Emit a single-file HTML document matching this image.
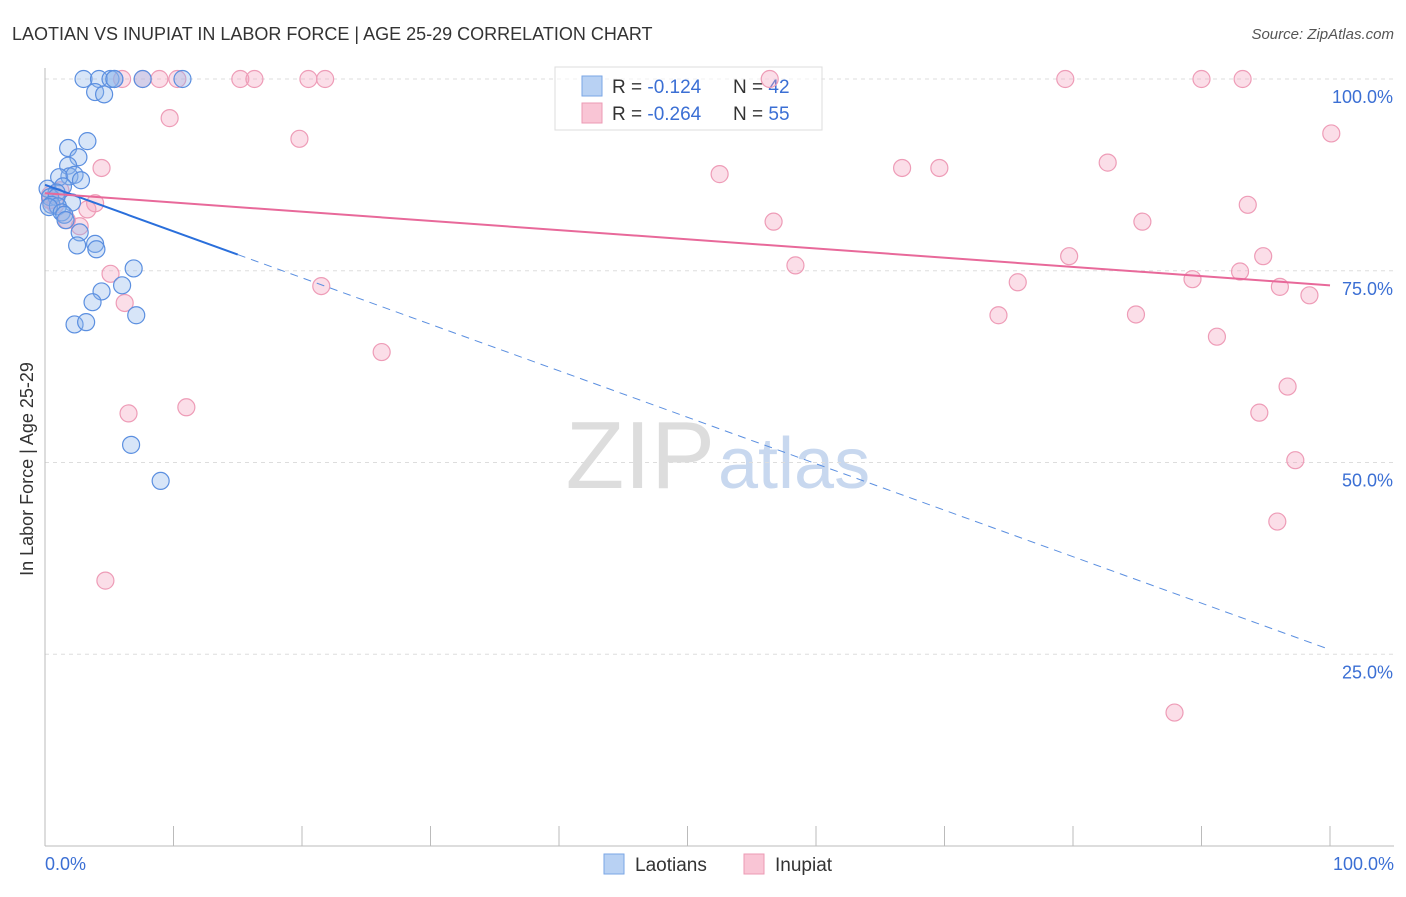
<!DOCTYPE html>
<html><head><meta charset="utf-8"><style>
body{margin:0;background:#fff;font-family:"Liberation Sans",sans-serif;}
svg text{font-family:"Liberation Sans",sans-serif;}
</style></head><body>
<svg width="1406" height="892">
<text x="12" y="40" font-size="18" fill="#333">LAOTIAN VS INUPIAT IN LABOR FORCE | AGE 25-29 CORRELATION CHART</text>
<text x="1394" y="39" font-size="15" fill="#555" font-style="italic" text-anchor="end">Source: ZipAtlas.com</text>
<text x="715" y="488" font-size="96" fill="#ddd" text-anchor="end" font-family="Liberation Serif">ZIP</text>
<text x="718" y="488" font-size="72" fill="#c8d8ef">atlas</text>
<g id="grid"></g>
<line x1="45" y1="68" x2="45" y2="846" stroke="#bbb"/>
<line x1="45" y1="846" x2="1394" y2="846" stroke="#bbb"/>
<g id="ticks"></g>
<text x="20" y="456" font-size="18" fill="#333" transform="rotate(-90 33 456)" text-anchor="middle">In Labor Force | Age 25-29</text>
<text x="45" y="870" font-size="18" fill="#3b6fd4">0.0%</text>
<text x="1394" y="870" font-size="18" fill="#3b6fd4" text-anchor="end">100.0%</text>
<g>
<rect x="555" y="67" width="267" height="63" fill="rgba(255,255,255,0.6)" stroke="#ddd"/>
<rect x="582" y="76" width="20" height="20" fill="#b8d1f3" stroke="#7aa6e6"/>
<rect x="582" y="103" width="20" height="20" fill="#f9c5d5" stroke="#ec9ab4"/>
<text x="612" y="93" font-size="19" fill="#333">R = <tspan fill="#3b6fd4">-0.124</tspan><tspan x="733">N = </tspan><tspan fill="#3b6fd4">42</tspan></text>
<text x="612" y="120" font-size="19" fill="#333">R = <tspan fill="#3b6fd4">-0.264</tspan><tspan x="733">N = </tspan><tspan fill="#3b6fd4">55</tspan></text>
</g>
<g id="pts"></g>
<g id="lines"></g>
<g>
<rect x="604" y="854" width="20" height="20" fill="#b8d1f3" stroke="#7aa6e6"/>
<text x="635" y="871" font-size="19" fill="#333">Laotians</text>
<rect x="744" y="854" width="20" height="20" fill="#f9c5d5" stroke="#ec9ab4"/>
<text x="775" y="871" font-size="19" fill="#333">Inupiat</text>
</g>
</svg>
<script>
const yTicks=[100,75,50,25];
const yTickLabels=["100.0%","75.0%","50.0%","25.0%"];
const xTicks=[0,10,20,30,40,50,60,70,80,90,100];
const laoX=[3.0,4.2,5.1,5.4,5.4,7.6,10.7,3.9,4.6,3.3,1.8,2.6,1.8,1.9,1.1,2.3,2.8,1.4,0.2,0.9,0.4,0.9,2.1,0.5,1.0,0.3,1.3,1.5,1.6,2.7,2.5,3.9,4.0,6.9,6.0,4.4,3.7,7.1,2.3,3.2,6.7,9.0];
const laoY=[100,100,100,100,100,100,100,98.3,98.0,91.9,91.0,89.8,88.7,87.3,87.2,87.5,86.8,86.0,85.7,85.2,84.6,84.6,83.9,83.6,83.4,83.3,82.6,82.3,81.6,80.0,78.3,78.5,77.8,75.3,73.1,72.3,70.9,69.2,68.0,68.3,52.3,47.6];
const inuX=[6.0,7.6,8.9,10.3,15.2,16.3,20.5,21.8,56.4,79.4,90.0,93.2,9.7,19.8,100.1,4.4,66.7,69.6,82.7,52.5,3.9,3.3,1.7,2.7,0.4,0.8,56.7,85.4,93.6,5.1,6.2,21.5,58.4,79.7,94.8,93.0,89.3,75.7,96.1,98.4,74.2,84.9,91.2,26.2,96.7,6.5,11.0,94.5,97.3,95.9,4.7,87.9,0.4,1.2];
const inuY=[100,100,100,100,100,100,100,100,100,100,100,100,94.9,92.2,92.9,88.4,88.4,88.4,89.1,87.6,83.8,83.0,81.6,80.8,84.9,83.6,81.4,81.4,83.6,74.6,70.8,73.0,75.7,76.9,76.9,74.9,73.9,73.5,72.9,71.8,69.2,69.3,66.4,64.4,59.9,56.4,57.2,56.5,50.3,42.3,34.6,17.4,84.2,85.5];
const laoTrend=[86.2,25.6], inuTrend=[85.1,73.1];
const X=v=>45+v*12.85, Y=v=>846-v*7.67;
const NS="http://www.w3.org/2000/svg";
function mk(t,a,p){const e=document.createElementNS(NS,t);for(const k in a)e.setAttribute(k,a[k]);p.appendChild(e);return e;}
const grid=document.getElementById('grid');
yTicks.forEach((t,i)=>{
 const l=mk('line',{x1:45,x2:1394,y1:Y(t),y2:Y(t),stroke:'#ddd','stroke-dasharray':'4,4'},grid);
 
 
 const tx=mk('text',{x:1393,y:Y(t)+24,'font-size':18,fill:'#3b6fd4','text-anchor':'end'},grid);
 tx.textContent=yTickLabels[i];
 
 
});
const tk=document.getElementById('ticks');
xTicks.forEach(t=>{
 const l=mk('line',{x1:X(t),x2:X(t),y1:826,y2:846,stroke:'#bbb'},tk);
 
 
});
const pts=document.getElementById('pts');
inuX.forEach((x,i)=>{
 const c=mk('circle',{cx:X(x),cy:Y(inuY[i]),r:8.5,fill:'rgba(244,160,188,0.35)',stroke:'#ee9cb7','stroke-width':1.2},pts);
 
 
});
laoX.forEach((x,i)=>{
 const c=mk('circle',{cx:X(x),cy:Y(laoY[i]),r:8.5,fill:'rgba(140,180,235,0.35)',stroke:'#5b8fe0','stroke-width':1.2},pts);
 
 
});
const ln=document.getElementById('lines');
const lt=x=>laoTrend[0]+(laoTrend[1]-laoTrend[0])*x/100;
let a=mk('line',{x1:X(0),y1:Y(lt(0)),x2:X(15),y2:Y(lt(15)),stroke:'#2a6fdb','stroke-width':2},ln);


a=mk('line',{x1:X(15),y1:Y(lt(15)),x2:X(100),y2:Y(lt(100)),stroke:'#5b8fe0','stroke-width':1,'stroke-dasharray':'8,6'},ln);


a=mk('line',{x1:X(0),y1:Y(inuTrend[0]),x2:X(100),y2:Y(inuTrend[1]),stroke:'#e8699a','stroke-width':2},ln);


</script>
</body></html>
